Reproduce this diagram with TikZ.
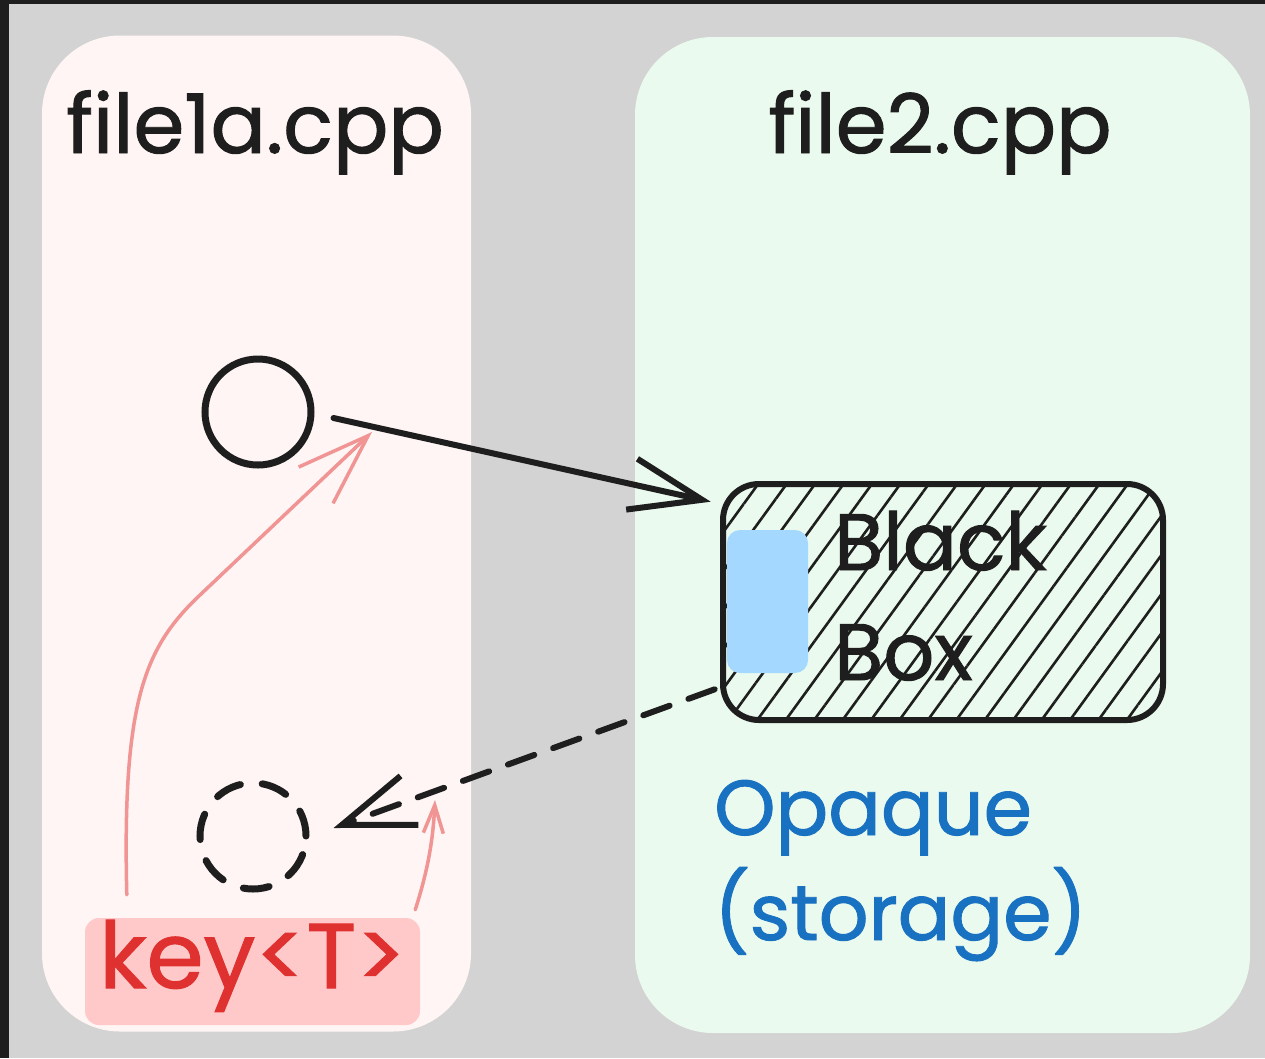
\documentclass[tikz,border=0pt]{standalone}
\usepackage{fontspec}
\setmainfont{Poppins}[FakeBold=1.2]
\usetikzlibrary{arrows.meta,patterns.meta}

\definecolor{frame}{HTML}{1E1E1E}
\definecolor{canvas}{HTML}{D3D3D3}
\definecolor{ink}{HTML}{1E1E1E}
\definecolor{pinkpanel}{HTML}{FFF5F4}
\definecolor{greenpanel}{HTML}{EAFAEE}
\definecolor{lightblue}{HTML}{A5D8FF}
\definecolor{textblue}{HTML}{1971C2}
\definecolor{textred}{HTML}{E03131}
\definecolor{keyfill}{HTML}{FFC9C9}
\definecolor{hintred}{HTML}{F09494}

\tikzset{
  panel/.style={rounded corners=78pt, inner sep=0pt, draw=none},
  hand/.style={font=\fontsize{78}{90}\selectfont, inner sep=0pt, text=ink},
  objring/.style={circle, draw=ink, line width=7pt, minimum size=106pt, inner sep=0pt},
  bigarrow/.style={draw=ink, line width=6pt, line cap=round,
    -{Straight Barb[length=72pt, width=52pt, line width=6pt]}},
  hintarrow/.style={draw=hintred, line width=3.5pt, line cap=round},
}

\begin{document}
\begin{tikzpicture}[x=1pt, y=-1pt]
  % canvas with its dark frame edge
  \useasboundingbox (0,0) rectangle (1265,1058);
  \fill[frame] (0,0) rectangle (1265,1058);
  \fill[canvas] (9,4) rectangle (1265,1058);

  % the two translation units
  \node[panel, fill=pinkpanel, minimum width=429pt, minimum height=996pt] (left) at (256.5,533.5) {};
  \node[panel, fill=greenpanel, minimum width=615pt, minimum height=996pt] (right) at (942.5,535) {};

  \node[hand, font=\fontsize{82}{90}\selectfont, anchor=base] (t1) at (255,153) {file1a.cpp};
  \node[hand, font=\fontsize{82}{90}\selectfont, anchor=base] (t2) at (940,153) {file2.cpp};

  % object and its hidden counterpart
  \node[objring] (obj) at (258,412) {};
  \node[objring, dash pattern=on 26pt off 22pt, line cap=round] (ghost) at (253,836) {};

  % the black box
  \node[draw=ink, line width=6pt, rounded corners=36pt, inner sep=0pt,
        minimum width=440pt, minimum height=236pt,
        pattern={Lines[angle=54, distance=23pt, line width=2.6pt]}, pattern color=ink]
        (bbox) at (943,602) {};
  \node[fill=lightblue, rounded corners=13pt, inner sep=0pt,
        minimum width=81pt, minimum height=143pt] (slot) at (767.5,601.5) {};
  \node[hand, font=\fontsize{80}{90}\selectfont, anchor=base west] (bb1) at (834,570) {Black};
  \node[hand, font=\fontsize{80}{90}\selectfont, anchor=base west] (bb2) at (834,680) {Box};

  % storage label
  \node[hand, text=textblue, anchor=base west] (op1) at (714,835) {Opaque};
  \node[hand, text=textblue, anchor=base west] (op2) at (714,940) {(storage)};

  % key
  \node[fill=keyfill, rounded corners=14pt, inner sep=0pt,
        minimum width=335pt, minimum height=107pt,
        text height=56pt, text depth=23pt,
        font=\fontsize{92}{100}\selectfont, text=textred] (key) at (252.5,971.5) {key<T>};

  % connectors
  \draw[bigarrow] ([shift={(19,6)}]obj.east) -- ([shift={(-11,19)}]bbox.north west);
  \draw[bigarrow, dash pattern=on 28pt off 20pt] ([shift={(-7,-32)}]bbox.south west)
        -- ([shift={(24,-8)}]ghost.east);

  \coordinate (objref) at (372,432);
  \coordinate (ghostref) at (435,800);
  \draw[hintarrow, -{Straight Barb[length=72pt, width=50pt, line width=3.5pt]}]
        ([shift={(42,-23)}]key.north west)
        .. controls (122,700) and (145,647) .. (200,595) -- (objref);
  \draw[hintarrow, -{Straight Barb[length=28pt, width=20pt, line width=3.5pt]}]
        ([shift={(-5,-8)}]key.north east)
        .. controls (428,870) and (433,840) .. (ghostref);
\end{tikzpicture}
\end{document}
